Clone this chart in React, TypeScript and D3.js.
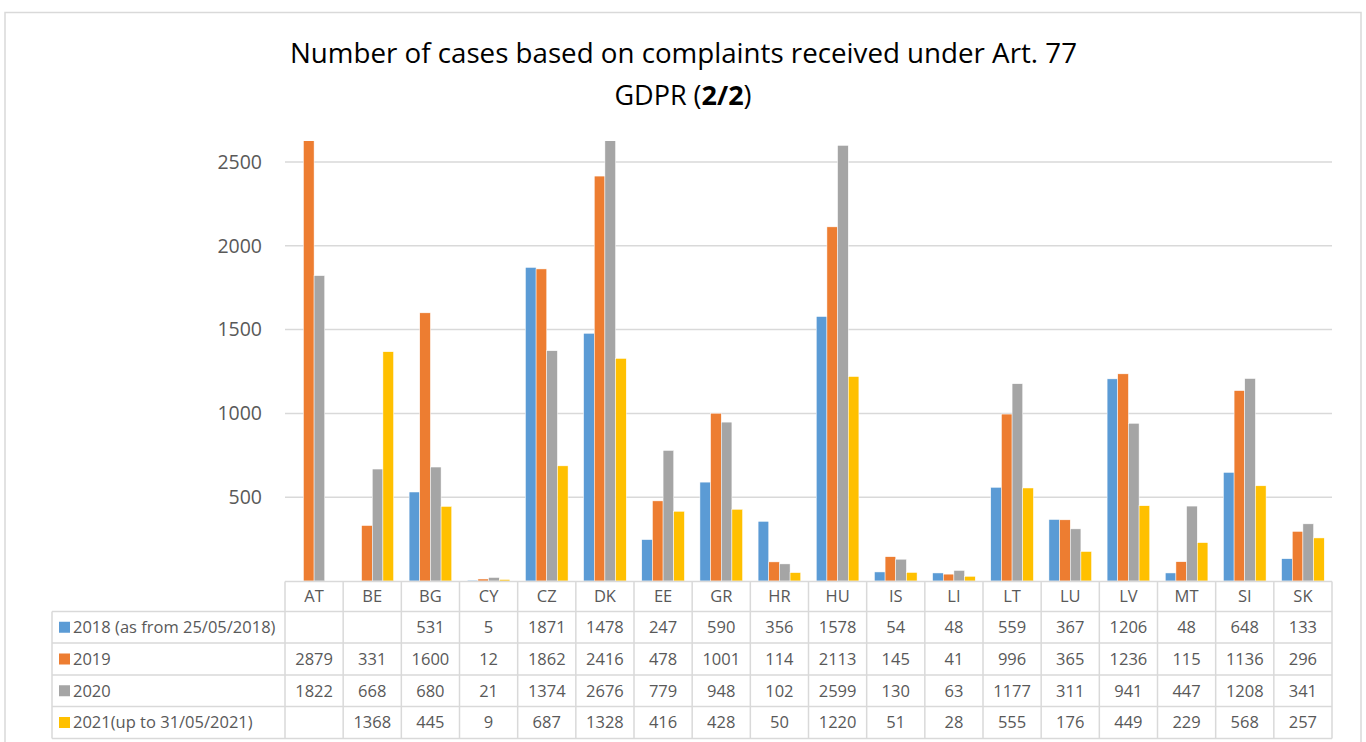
import React from 'react';
import * as d3 from 'd3';

const categories = ['AT','BE','BG','CY','CZ','DK','EE','GR','HR','HU','IS','LI','LT','LU','LV','MT','SI','SK'];
const s2018: (number | null)[] = [null,null,531,5,1871,1478,247,590,356,1578,54,48,559,367,1206,48,648,133];
const s2019: (number | null)[] = [2879,331,1600,12,1862,2416,478,1001,114,2113,145,41,996,365,1236,115,1136,296];
const s2020: (number | null)[] = [1822,668,680,21,1374,2676,779,948,102,2599,130,63,1177,311,941,447,1208,341];
const s2021: (number | null)[] = [null,1368,445,9,687,1328,416,428,50,1220,51,28,555,176,449,229,568,257];
const seriesNames = ['2018 (as from 25/05/2018)','2019','2020','2021(up to 31/05/2021)'];
const seriesColors = ['#5B9BD5','#ED7D31','#A5A5A5','#FFC000'];
const yTicks = [500,1000,1500,2000,2500];

const series = [s2018, s2019, s2020, s2021];

const W = 1366, H = 742;
const plotLeft = 285, plotRight = 1332;
const plotTop = 141, plotBottom = 581;
const tableLeft = 52;
const rowTops = [581.5, 611.5, 643, 675, 706.5, 738.5];
const font = "'Open Sans', sans-serif";
const textColor = '#595959';
const lineColor = '#D9D9D9';

export default function App() {
  const x = d3.scaleBand<string>().domain(categories).range([plotLeft, plotRight]);
  const y = d3.scaleLinear().domain([0, 2500]).range([plotBottom, 162]);
  const groupW = x.bandwidth() * 0.733;
  const barW = groupW / 4;

  return (
    <svg width={W} height={H} style={{ position: 'absolute', left: 0, top: 0, background: '#fff' }}>
      <defs>
        <clipPath id="plotClip">
          <rect x={plotLeft} y={plotTop} width={plotRight - plotLeft} height={plotBottom - plotTop} />
        </clipPath>
      </defs>
      {/* frame */}
      <rect x={5} y={12.5} width={1356} height={745} fill="none" stroke={lineColor} strokeWidth={1.5} />

      {/* title */}
      <text x={683.5} y={63} textAnchor="middle" fontFamily={font} fontSize={27} fill="#000"
        textLength={787} lengthAdjust="spacingAndGlyphs">
        Number of cases based on complaints received under Art. 77
      </text>
      <text x={683} y={105} textAnchor="middle" fontFamily={font} fontSize={27} fill="#000">
        GDPR (<tspan fontWeight="bold">2/2</tspan>)
      </text>

      {/* gridlines */}
      {yTicks.map(t => (
        <g key={t}>
          <line x1={plotLeft} x2={plotRight} y1={y(t)} y2={y(t)} stroke={lineColor} strokeWidth={1.5} />
          <text x={262} y={y(t)} dy="0.35em" textAnchor="end" fontFamily={font} fontSize={19.5} fill={textColor}>{t}</text>
        </g>
      ))}

      {/* bars */}
      <g clipPath="url(#plotClip)">
        {categories.map((c, i) => {
          const gx = (x(c) as number) + (x.bandwidth() - groupW) / 2;
          return series.map((s, si) => {
            const v = s[i];
            if (v == null) return null;
            return (
              <rect key={c + si} x={gx + si * barW} y={y(v)} width={barW} height={plotBottom - y(v)}
                fill={seriesColors[si]} stroke="#fff" strokeWidth={0.5} />
            );
          });
        })}
      </g>

      {/* data table */}
      <g fontFamily={font} fontSize={16.5} fill={textColor}>
        {/* horizontal lines */}
        <line x1={plotLeft} x2={plotRight} y1={rowTops[0]} y2={rowTops[0]} stroke={lineColor} strokeWidth={1.5} />
        {rowTops.slice(1).map((ry, k) => (
          <line key={k} x1={tableLeft} x2={plotRight} y1={ry} y2={ry} stroke={lineColor} strokeWidth={1.5} />
        ))}
        {/* vertical lines */}
        <line x1={tableLeft} x2={tableLeft} y1={rowTops[1]} y2={rowTops[5]} stroke={lineColor} strokeWidth={1.5} />
        {categories.map(c => (
          <line key={c} x1={x(c) as number} x2={x(c) as number} y1={rowTops[0]} y2={rowTops[5]} stroke={lineColor} strokeWidth={1.5} />
        ))}
        <line x1={plotRight} x2={plotRight} y1={rowTops[0]} y2={rowTops[5]} stroke={lineColor} strokeWidth={1.5} />
        {/* header */}
        {categories.map(c => (
          <text key={c} x={(x(c) as number) + x.bandwidth() / 2} y={(rowTops[0] + rowTops[1]) / 2} dy="0.35em" textAnchor="middle">{c}</text>
        ))}
        {/* rows */}
        {series.map((s, si) => {
          const cy = (rowTops[si + 1] + rowTops[si + 2]) / 2;
          return (
            <g key={si}>
              <rect x={59} y={cy - 5.5} width={11} height={11} fill={seriesColors[si]} />
              <text x={73} y={cy} dy="0.35em">{seriesNames[si]}</text>
              {categories.map((c, i) => s[i] == null ? null : (
                <text key={c} x={(x(c) as number) + x.bandwidth() / 2} y={cy} dy="0.35em" textAnchor="middle">{s[i]}</text>
              ))}
            </g>
          );
        })}
      </g>
    </svg>
  );
}
